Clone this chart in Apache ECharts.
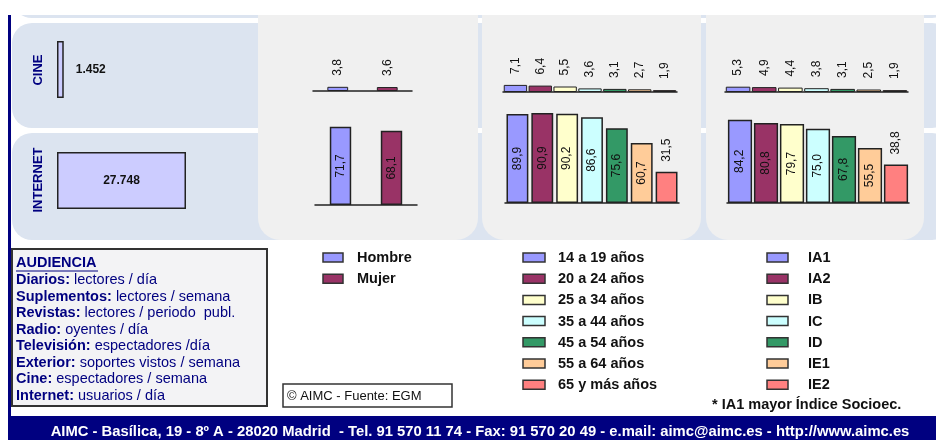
<!DOCTYPE html>
<html>
<head>
<meta charset="utf-8">
<script src="https://cdn.jsdelivr.net/npm/echarts@6/dist/echarts.min.js"></script>
<style>
  html, body { margin: 0; padding: 0; background: #fff; }
  #chart { width: 936px; height: 440px; }
</style>
</head>
<body>
<div id="chart"></div>
<script>
// audiencia totals (miles)
const mediaNames = ["CINE", "INTERNET"];
const mediaTotals = [1452, 27748];

// % by sex
const sexNames = ["Hombre", "Mujer"];
const sexCine = [3.8, 3.6];
const sexInternet = [71.7, 68.1];

// % by age
const ageNames = ["14 a 19 años", "20 a 24 años", "25 a 34 años", "35 a 44 años", "45 a 54 años", "55 a 64 años", "65 y más años"];
const ageCine = [7.1, 6.4, 5.5, 3.6, 3.1, 2.7, 1.9];
const ageInternet = [89.9, 90.9, 90.2, 86.6, 75.6, 60.7, 31.5];

// % by socio-economic class
const classNames = ["IA1", "IA2", "IB", "IC", "ID", "IE1", "IE2"];
const classCine = [5.3, 4.9, 4.4, 3.8, 3.1, 2.5, 1.9];
const classInternet = [84.2, 80.8, 79.7, 75.0, 67.8, 55.5, 38.8];

const audienciaLines = [
  ["Diarios:", " lectores / día"],
  ["Suplementos:", " lectores / semana"],
  ["Revistas:", " lectores / periodo  publ."],
  ["Radio:", " oyentes / día"],
  ["Televisión:", " espectadores /día"],
  ["Exterior:", " soportes vistos / semana"],
  ["Cine:", " espectadores / semana"],
  ["Internet:", " usuarios / día"]
];

const palette = ["#9999ff", "#993366", "#ffffcc", "#ccffff", "#339966", "#ffcc99", "#ff8080"];
const FONT = "'Liberation Sans', Arial, sans-serif";
const NAVY = "#000080";

const chart = echarts.init(document.getElementById("chart"));

const fmtDec = (v) => v.toFixed(1).replace(".", ",");
const fmtThousands = (v) => String(v).replace(/\B(?=(\d{3})+(?!\d))/g, ".");

// grid layout: [left, top, width, height]
const grids = [
  [57, 41, 129, 57],    // cine total
  [57, 152, 129, 57],   // internet total
  [313, 80, 99, 11],    // sex cine
  [315, 96, 102, 109],  // sex internet
  [503, 82, 174, 10],   // age cine
  [505, 104, 174, 99],  // age internet
  [725, 82, 183, 10],   // class cine
  [727, 104, 182, 99]   // class internet
];

const xAxes = [];
const yAxes = [];
const series = [];

// horizontal total bars
mediaNames.forEach((name, i) => {
  xAxes.push({ gridIndex: i, type: "value", min: 0, max: Math.max(...mediaTotals), show: false });
  yAxes.push({ gridIndex: i, type: "category", data: [name], show: false });
  series.push({
    type: "bar",
    xAxisIndex: i,
    yAxisIndex: i,
    barWidth: 57,
    data: [mediaTotals[i]],
    itemStyle: { color: "#ccccff", borderColor: "#222", borderWidth: 1.5 },
    label: {
      show: true,
      position: i === 0 ? "right" : "inside",
      distance: 12,
      formatter: (p) => fmtThousands(p.value),
      fontFamily: FONT,
      fontWeight: "bold",
      fontSize: 12,
      color: "#111"
    },
    silent: true
  });
});

function panel(gi, names, values, big, gap) {
  xAxes.push({
    gridIndex: gi,
    type: "category",
    data: names,
    axisLine: { lineStyle: { color: "#222", width: 1.5 } },
    axisTick: { show: false },
    axisLabel: { show: false }
  });
  yAxes.push({ gridIndex: gi, type: "value", min: 0, max: big ? 100 : 10, show: false });
  series.push({
    type: "bar",
    xAxisIndex: gi,
    yAxisIndex: gi,
    barCategoryGap: gap,
    silent: true,
    data: values.map((v, k) => {
      const outside = !big || v < 45;
      return {
        value: v,
        itemStyle: { color: palette[k], borderColor: "#222", borderWidth: big ? 1.5 : 1 },
        label: outside
          ? { position: "top", distance: big ? 10 : 11, rotate: 90, align: "left", verticalAlign: "middle" }
          : { position: "inside", rotate: 90, align: "center", verticalAlign: "middle" }
      };
    }),
    label: {
      show: true,
      formatter: (p) => fmtDec(p.value),
      fontFamily: FONT,
      fontSize: 12,
      color: "#111"
    }
  });
}

panel(2, sexNames, sexCine, false, "58%");
panel(3, sexNames, sexInternet, true, "58%");
panel(4, ageNames, ageCine, false, "6%");
panel(5, ageNames, ageInternet, true, "12%");
panel(6, classNames, classCine, false, "6%");
panel(7, classNames, classInternet, true, "7%");

// background shapes
const graphics = [
  { type: "rect", shape: { x: 12, y: -80, width: 940, height: 98, r: 20 }, style: { fill: "#dce4f0" } },
  { type: "rect", shape: { x: 12, y: 23, width: 940, height: 105, r: 20 }, style: { fill: "#dce4f0" } },
  { type: "rect", shape: { x: 12, y: 133, width: 940, height: 107, r: 20 }, style: { fill: "#dce4f0" } },
  { type: "rect", shape: { x: 258, y: -20, width: 220, height: 260, r: 22 }, style: { fill: "#f0f0f0" } },
  { type: "rect", shape: { x: 482, y: -20, width: 219, height: 260, r: 22 }, style: { fill: "#f0f0f0" } },
  { type: "rect", shape: { x: 706, y: -20, width: 218, height: 260, r: 22 }, style: { fill: "#f0f0f0" } },
  { type: "rect", shape: { x: 0, y: 0, width: 936, height: 15 }, style: { fill: "#fff" } },
  { type: "rect", shape: { x: 8, y: 15, width: 3, height: 402 }, style: { fill: NAVY } },
  { type: "rect", shape: { x: 8, y: 416, width: 928, height: 24 }, style: { fill: NAVY } },
  {
    type: "text", x: 480, y: 432,
    style: {
      text: "AIMC - Basílica, 19 - 8º A - 28020 Madrid  - Tel. 91 570 11 74 - Fax: 91 570 20 49 - e.mail: aimc@aimc.es - http://www.aimc.es",
      font: "bold 14.8px " + FONT, fill: "#fff",
      align: "center", verticalAlign: "middle", textAlign: "center", textVerticalAlign: "middle"
    }
  }
];

// medium labels, rotated
[[38, 70], [38, 180]].forEach((pos, i) => {
  graphics.push({
    type: "text", x: pos[0], y: pos[1], rotation: Math.PI / 2,
    style: {
      text: mediaNames[i], font: "bold 13px " + FONT, fill: NAVY,
      align: "center", verticalAlign: "middle", textAlign: "center", textVerticalAlign: "middle"
    }
  });
});

// audiencia box
graphics.push({ type: "rect", shape: { x: 12, y: 249, width: 255, height: 157 }, style: { fill: "#f3f3f5", stroke: "#333", lineWidth: 2 } });
graphics.push({
  type: "text", x: 16, y: 263,
  style: { text: "AUDIENCIA", font: "bold 14.5px " + FONT, fill: NAVY, verticalAlign: "middle", textVerticalAlign: "middle" }
});
graphics.push({ type: "line", shape: { x1: 16, y1: 271, x2: 98, y2: 271 }, style: { stroke: NAVY, lineWidth: 1 } });
audienciaLines.forEach((ln, i) => {
  graphics.push({
    type: "text", x: 16, y: 280 + i * 16.5,
    style: {
      text: "{b|" + ln[0] + "}{n|" + ln[1] + "}",
      verticalAlign: "middle", textVerticalAlign: "middle",
      rich: {
        b: { fontFamily: FONT, fontWeight: "bold", fontSize: 14.5, fill: NAVY, color: NAVY },
        n: { fontFamily: FONT, fontSize: 14.5, fill: NAVY, color: NAVY }
      }
    }
  });
});

// copyright box
graphics.push({ type: "rect", shape: { x: 283, y: 384, width: 169, height: 23 }, style: { fill: "#fff", stroke: "#333", lineWidth: 1.5 } });
graphics.push({
  type: "text", x: 287, y: 396,
  style: { text: "© AIMC - Fuente: EGM", font: "13px " + FONT, fill: "#111", verticalAlign: "middle", textVerticalAlign: "middle" }
});

// legends
function legend(names, boxX, boxW, textX) {
  names.forEach((n, k) => {
    const y = 257 + k * 21.2;
    graphics.push({ type: "rect", shape: { x: boxX, y: y - 4, width: boxW, height: 9 }, style: { fill: palette[k], stroke: "#333", lineWidth: 1.5 } });
    graphics.push({
      type: "text", x: textX, y: y + 1,
      style: { text: n, font: "bold 14.5px " + FONT, fill: "#111", verticalAlign: "middle", textVerticalAlign: "middle" }
    });
  });
}
legend(sexNames, 323, 20, 357);
legend(ageNames, 523, 22, 558);
legend(classNames, 767, 21, 808);

graphics.push({
  type: "text", x: 712, y: 405,
  style: { text: "* IA1 mayor Índice Socioec.", font: "bold 14.5px " + FONT, fill: "#111", verticalAlign: "middle", textVerticalAlign: "middle" }
});

const option = {
  backgroundColor: "#fff",
  animation: false,
  grid: grids.map((g) => ({ left: g[0], top: g[1], width: g[2], height: g[3], containLabel: false })),
  xAxis: xAxes,
  yAxis: yAxes,
  series: series,
  graphic: { elements: graphics.map((e) => Object.assign({ z: -10, silent: true }, e)) }
};

chart.setOption(option);
</script>
</body>
</html>
